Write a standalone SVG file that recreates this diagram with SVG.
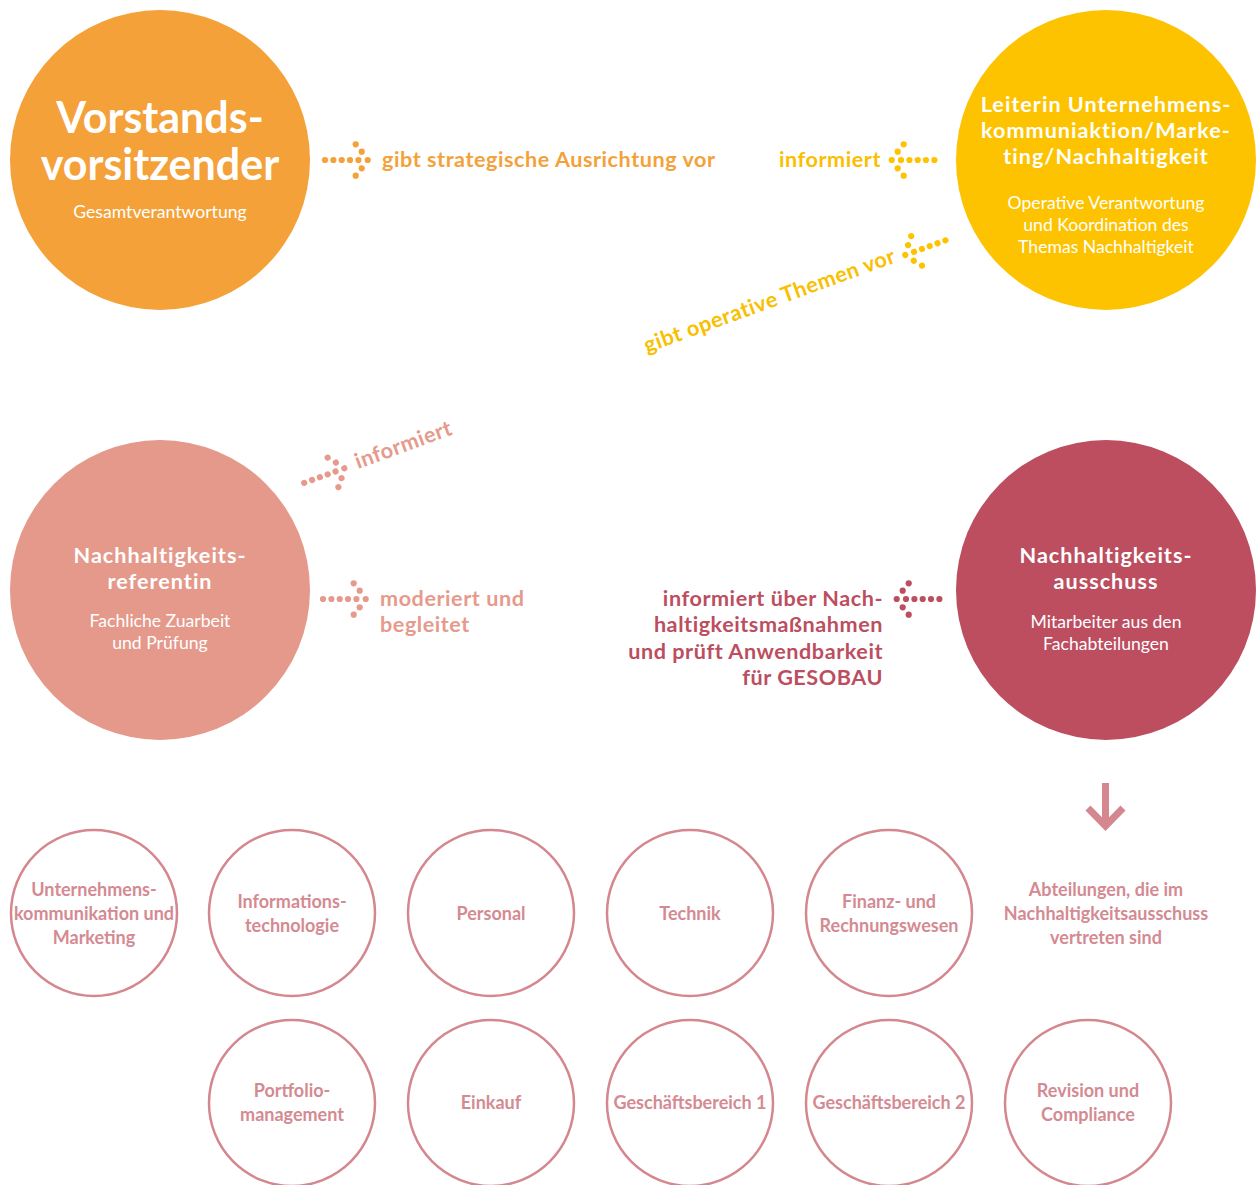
<svg xmlns="http://www.w3.org/2000/svg" xmlns:xlink="http://www.w3.org/1999/xlink" width="1257" height="1185" viewBox="0 0 1257 1185">
<style>
text{font-family:Lato,"Liberation Sans",sans-serif;font-weight:bold}
.w{fill:#ffffff;text-anchor:middle}
.t{font-size:21.6px;letter-spacing:1px}
.sub{font-weight:normal;font-size:17.6px}
.small circle{fill:none;stroke:#d4878f;stroke-width:2.5}
.small text{fill:#d48a92;font-size:18px;text-anchor:middle}
.lbl{font-size:21.6px;letter-spacing:0.55px}
</style>
<defs>
<g id="dots">
<circle cx="-42.7" cy="0" r="3.1"/><circle cx="-34.3" cy="0" r="3.1"/><circle cx="-26" cy="0" r="3.1"/><circle cx="-17.7" cy="0" r="3.1"/><circle cx="-9.3" cy="0" r="3.1"/>
<circle cx="-12" cy="-15.7" r="3.1"/><circle cx="-6" cy="-8.3" r="3.1"/><circle cx="0" cy="0" r="3.1"/><circle cx="-6" cy="8.3" r="3.1"/><circle cx="-12" cy="15.7" r="3.1"/>
</g>
</defs>
<rect width="1257" height="1185" fill="#ffffff"/>

<g id="vorstand">
<circle cx="160" cy="160" r="150" fill="#f4a139"/>
<text class="w" x="160" y="133" font-size="43">Vorstands-</text>
<text class="w" x="160" y="180" font-size="43">vorsitzender</text>
<text class="w sub" x="160" y="218">Gesamtverantwortung</text>
</g>

<g id="leiterin">
<circle cx="1106" cy="160" r="150" fill="#fdc300"/>
<text class="w t" x="1106" y="112">Leiterin Unternehmens-</text>
<text class="w t" x="1106" y="138">kommuniaktion/Marke-</text>
<text class="w t" x="1106" y="164">ting/Nachhaltigkeit</text>
<text class="w sub" x="1106" y="209">Operative Verantwortung</text>
<text class="w sub" x="1106" y="231">und Koordination des</text>
<text class="w sub" x="1106" y="253">Themas Nachhaltigkeit</text>
</g>

<g id="referentin">
<circle cx="160" cy="590" r="150" fill="#e4998b"/>
<text class="w t" x="160" y="563">Nachhaltigkeits-</text>
<text class="w t" x="160" y="589">referentin</text>
<text class="w sub" x="160" y="627">Fachliche Zuarbeit</text>
<text class="w sub" x="160" y="649">und Prüfung</text>
</g>

<g id="ausschuss">
<circle cx="1106" cy="590" r="150" fill="#bc4e5f"/>
<text class="w t" x="1106" y="563">Nachhaltigkeits-</text>
<text class="w t" x="1106" y="589">ausschuss</text>
<text class="w sub" x="1106" y="628">Mitarbeiter aus den</text>
<text class="w sub" x="1106" y="650">Fachabteilungen</text>
</g>

<g id="connectors">
<use xlink:href="#dots" transform="translate(367.7,160)" fill="#f4a139"/>
<text class="lbl" x="382" y="167" fill="#f4a139">gibt strategische Ausrichtung vor</text>

<use xlink:href="#dots" transform="translate(891.7,160) scale(-1,1)" fill="#fdc300"/>
<text class="lbl" x="881" y="167" fill="#f9bf00" text-anchor="end">informiert</text>

<use xlink:href="#dots" transform="translate(905.3,255) rotate(160)" fill="#fdc300"/>
<text class="lbl" transform="translate(647,353) rotate(-20)" fill="#f9bf00">gibt operative Themen vor</text>

<use xlink:href="#dots" transform="translate(344.3,468.3) rotate(-20)" fill="#e69a8c"/>
<text class="lbl" transform="translate(358,469) rotate(-20)" fill="#e69a8c">informiert</text>

<use xlink:href="#dots" transform="translate(365.7,599)" fill="#e69a8c"/>
<text class="lbl" x="380" y="606" fill="#e69a8c">moderiert und</text>
<text class="lbl" x="380" y="632" fill="#e69a8c">begleitet</text>

<use xlink:href="#dots" transform="translate(896.7,599) scale(-1,1)" fill="#bc4e5f"/>
<g class="lbl" fill="#bc4e5f" text-anchor="end">
<text x="883" y="606">informiert über Nach-</text>
<text x="883" y="632">haltigkeitsmaßnahmen</text>
<text x="883" y="659">und prüft Anwendbarkeit</text>
<text x="883" y="685">für GESOBAU</text>
</g>

<path d="M1105.5 783 V826 M1088 808 L1105.5 826 L1123 808" fill="none" stroke="#d4878f" stroke-width="7"/>
</g>

<g class="small">
<g id="d-uk"><circle cx="94" cy="913" r="83"/><text x="94" y="896">Unternehmens-</text><text x="94" y="920">kommunikation und</text><text x="94" y="944">Marketing</text></g>
<g id="d-it"><circle cx="292" cy="913" r="83"/><text x="292" y="908">Informations-</text><text x="292" y="932">technologie</text></g>
<g id="d-pers"><circle cx="491" cy="913" r="83"/><text x="491" y="920">Personal</text></g>
<g id="d-tech"><circle cx="690" cy="913" r="83"/><text x="690" y="920">Technik</text></g>
<g id="d-fin"><circle cx="889" cy="913" r="83"/><text x="889" y="908">Finanz- und</text><text x="889" y="932">Rechnungswesen</text></g>
<g id="d-note"><text x="1106" y="896">Abteilungen, die im</text><text x="1106" y="920">Nachhaltigkeitsausschuss</text><text x="1106" y="944">vertreten sind</text></g>
<g id="d-port"><circle cx="292" cy="1103" r="83"/><text x="292" y="1097">Portfolio-</text><text x="292" y="1121">management</text></g>
<g id="d-eink"><circle cx="491" cy="1103" r="83"/><text x="491" y="1109">Einkauf</text></g>
<g id="d-gb1"><circle cx="690" cy="1103" r="83"/><text x="690" y="1109">Geschäftsbereich 1</text></g>
<g id="d-gb2"><circle cx="889" cy="1103" r="83"/><text x="889" y="1109">Geschäftsbereich 2</text></g>
<g id="d-rev"><circle cx="1088" cy="1103" r="83"/><text x="1088" y="1097">Revision und</text><text x="1088" y="1121">Compliance</text></g>
</g>
</svg>
